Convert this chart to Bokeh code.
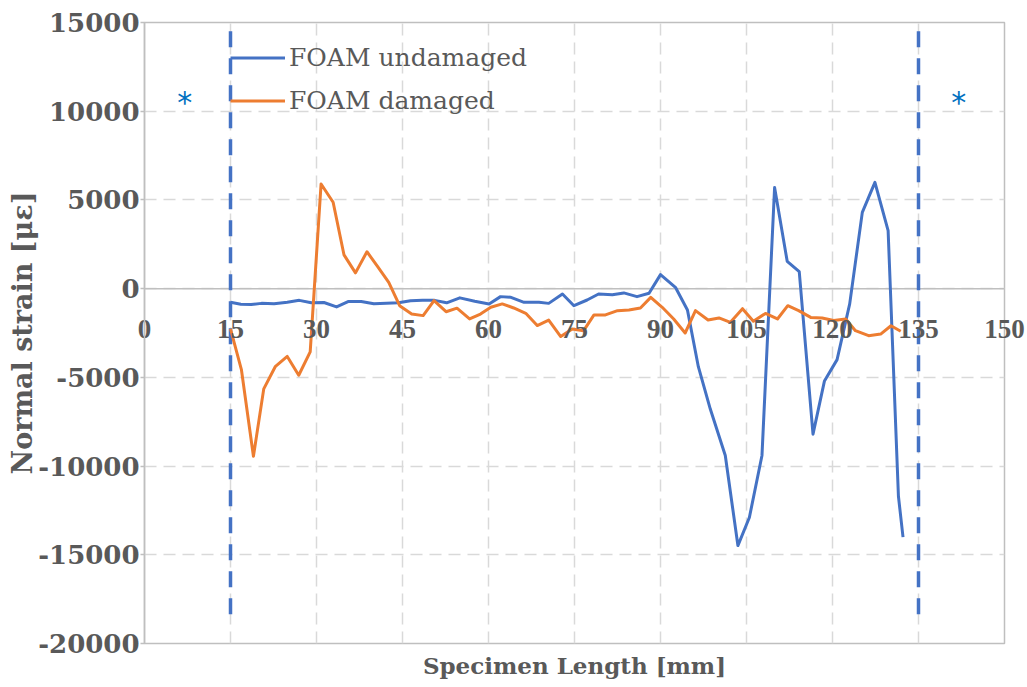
from bokeh.plotting import figure
from bokeh.models import FixedTicker, Legend, LegendItem, Span
from bokeh.core.properties import value
from bokeh.embed import file_html
from bokeh.resources import INLINE

# ---------------- data ----------------
undamaged_x = [15.0, 16.8, 18.6, 20.4, 22.6, 24.9, 27.0, 29.1, 31.3, 33.5, 35.6, 37.8, 40.0,
               42.2, 44.3, 46.4, 48.5, 50.6, 52.7, 55.0, 57.6, 60.1, 62.1, 63.8, 66.2, 68.8,
               70.5, 72.9, 74.9, 77.2, 79.2, 81.6, 83.6, 85.9, 88.0, 90.0, 92.6, 94.7, 96.6,
               98.7, 101.3, 103.5, 105.5, 107.7, 109.9, 112.1, 114.2, 116.6, 118.6, 120.8,
               123.0, 125.2, 127.4, 129.7, 131.5, 132.3]
undamaged_y = [-770, -880, -890, -830, -850, -770, -660, -800, -780, -1030, -720, -720, -850,
               -830, -800, -680, -660, -660, -800, -520, -710, -860, -450, -480, -770, -770,
               -830, -300, -960, -640, -300, -340, -240, -450, -260, 790, 75, -1200, -4400,
               -6800, -9400, -14480, -12900, -9400, 5700, 1540, 960, -8200, -5200, -4000,
               -860, 4300, 5990, 3270, -11700, -14000]

damaged_x = [15.0, 16.9, 19.0, 20.8, 22.8, 24.9, 26.9, 28.9, 30.8, 32.9, 34.8, 36.8, 38.8,
             40.7, 42.6, 44.5, 46.6, 48.6, 50.5, 52.6, 54.5, 56.7, 58.6, 60.4, 62.4, 64.4,
             66.5, 68.5, 70.5, 72.6, 74.6, 76.6, 78.4, 80.4, 82.5, 84.5, 86.5, 88.3, 90.3,
             92.3, 94.3, 96.1, 98.3, 100.2, 102.2, 104.3, 106.2, 108.3, 110.4, 112.2, 114.1,
             116.2, 118.2, 120.2, 122.3, 124.0, 126.3, 128.4, 130.2, 131.9]
damaged_y = [-2270, -4560, -9450, -5650, -4400, -3820, -4880, -3560, 5900, 4870, 1900, 890,
             2080, 1230, 350, -960, -1430, -1520, -680, -1300, -1100, -1710, -1430, -1050,
             -860, -1090, -1390, -2080, -1770, -2700, -2270, -2370, -1480, -1480, -1240,
             -1200, -1090, -490, -1050, -1710, -2500, -1240, -1770, -1650, -1900, -1130,
             -1840, -1400, -1710, -960, -1240, -1620, -1650, -1800, -1710, -2370, -2650,
             -2560, -2090, -2400]

series_names = ["FOAM undamaged", "FOAM damaged"]

boundary_x = [15, 135]
boundary_top = [14500, 14500]
boundary_bottom = [-18800, -18800]

star_x = [7, 142]
star_y = [10500, 10500]
star_text = ["*", "*"]

x_ticks = [0, 15, 30, 45, 60, 75, 90, 105, 120, 135, 150]
x_tick_labels = ["0", "15", "30", "45", "60", "75", "90", "105", "120", "135", "150"]
y_ticks = [-20000, -15000, -10000, -5000, 0, 5000, 10000, 15000]
y_tick_labels = ["-20000", "-15000", "-10000", "-5000", "0", "5000", "10000", "15000"]

x_title = "Specimen Length [mm]"
y_title = "Normal strain [με]"

# ---------------- style ----------------
BLUE = "#4472C4"
ORANGE = "#ED7D31"
STAR = "#0070C0"
TXT = "#595959"
AXIS = "#BFBFBF"
GRID = "#D9D9D9"

p = figure(width=1027, height=685, x_range=(0, 150), y_range=(-20000, 15000),
           output_backend="svg", toolbar_location=None,
           min_border_left=144, min_border_right=23, min_border_top=22, min_border_bottom=42)
p.background_fill_color = "white"
p.border_fill_color = "white"
p.outline_line_color = AXIS
p.outline_line_width = 1.5

# grids
p.xgrid.ticker = FixedTicker(ticks=x_ticks)
p.ygrid.ticker = FixedTicker(ticks=y_ticks)
for g in (p.xgrid, p.ygrid):
    g.grid_line_color = GRID
    g.grid_line_width = 1.5
    g.grid_line_dash = "12 7"

# zero line (horizontal axis line)
zero_line = Span(location=0, dimension="width", line_color=AXIS, line_width=1.5,
                 level="underlay")
p.add_layout(zero_line)

# x axis: its labels are lifted up next to the zero line (as in the original chart)
xa = p.xaxis[0]
xa.ticker = FixedTicker(ticks=x_ticks)
xa.major_label_overrides = {t: l for t, l in zip(x_ticks, x_tick_labels)}
xa.axis_line_color = None
xa.major_tick_line_color = None
xa.minor_tick_line_color = None
xa.major_tick_out = 0
xa.major_tick_in = 0
xa.major_label_standoff = -324
xa.major_label_text_font = "Liberation Serif"
xa.major_label_text_font_style = "bold"
xa.major_label_text_font_size = "27px"
xa.major_label_text_color = TXT
xa.axis_label = x_title
xa.axis_label_text_font = "DejaVu Serif"
xa.axis_label_text_font_style = "bold"
xa.axis_label_text_font_size = "23px"
xa.axis_label_text_color = TXT
xa.axis_label_standoff = 311

# y axis
ya = p.yaxis[0]
ya.ticker = FixedTicker(ticks=y_ticks)
ya.major_label_overrides = {t: l for t, l in zip(y_ticks, y_tick_labels)}
ya.axis_line_color = AXIS
ya.axis_line_width = 1.5
ya.major_tick_line_color = AXIS
ya.major_tick_line_width = 1.5
ya.major_tick_out = 4
ya.major_tick_in = 0
ya.minor_tick_line_color = None
ya.major_label_standoff = 1
ya.major_label_text_font = "DejaVu Serif"
ya.major_label_text_font_style = "bold"
ya.major_label_text_font_size = "26px"
ya.major_label_text_color = TXT
ya.axis_label = y_title
ya.axis_label_text_font = "DejaVu Serif"
ya.axis_label_text_font_style = "bold"
ya.axis_label_text_font_size = "27px"
ya.axis_label_text_color = TXT
ya.axis_label_standoff = -3

# boundary dashed lines
p.segment(x0=boundary_x, y0=boundary_top, x1=boundary_x, y1=boundary_bottom,
          line_color=BLUE, line_width=3.5, line_dash="16 11")

# series
r1 = p.line(undamaged_x, undamaged_y, line_color=BLUE, line_width=3, line_join="round")
r2 = p.line(damaged_x, damaged_y, line_color=ORANGE, line_width=3, line_join="round")

# asterisks
p.text(x=star_x, y=star_y, text=star_text, text_color=STAR,
       text_font=value("DejaVu Sans"), text_font_size="30px",
       text_align="center", text_baseline="middle")

legend = Legend(items=[LegendItem(label=series_names[0], renderers=[r1]),
                       LegendItem(label=series_names[1], renderers=[r2])],
                location=(86, 521))
legend.background_fill_alpha = 0
legend.border_line_alpha = 0
legend.margin = 0
legend.padding = 0
legend.spacing = 0
legend.glyph_width = 55
legend.glyph_height = 43
legend.label_height = 43
legend.label_standoff = 4
legend.label_text_font = "DejaVu Serif"
legend.label_text_font_size = "25px"
legend.label_text_color = TXT
p.add_layout(legend, "center")

open("out.html", "w").write(file_html(p, INLINE))
